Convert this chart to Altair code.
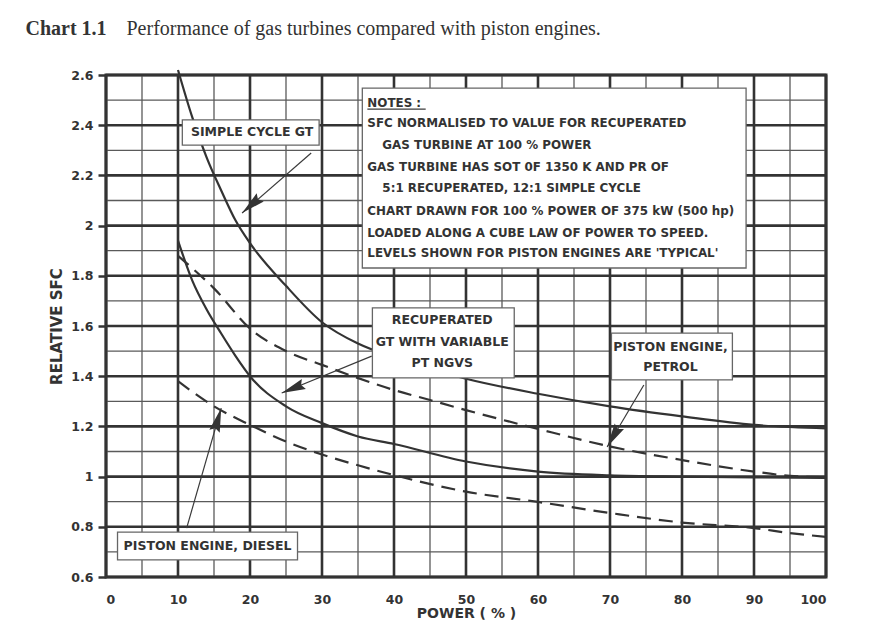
import math
import altair as alt
import pandas as pd

# ---------------- data ----------------
x_ticks = [0, 10, 20, 30, 40, 50, 60, 70, 80, 90, 100]
y_ticks = [0.6, 0.8, 1.0, 1.2, 1.4, 1.6, 1.8, 2.0, 2.2, 2.4, 2.6]
x_minor = [5, 15, 25, 35, 45, 55, 65, 75, 85, 95]
y_minor = [0.7, 0.9, 1.1, 1.3, 1.5, 1.7, 1.9, 2.1, 2.3, 2.5]

power_gt = [10, 12, 14, 16, 18, 20, 25, 30, 35, 40, 50, 60, 70, 80, 90, 100]
simple_cycle_gt = [2.62, 2.43, 2.27, 2.14, 2.02, 1.93, 1.76, 1.615, 1.53, 1.475, 1.39, 1.33, 1.28, 1.24, 1.206, 1.192]
recuperated_gt = [1.94, 1.78, 1.665, 1.57, 1.48, 1.40, 1.28, 1.213, 1.16, 1.13, 1.06, 1.02, 1.005, 1.0, 0.997, 0.995]

power_petrol = [10, 12, 15, 20, 25, 30, 40, 45, 50, 60, 70, 80, 90, 95, 100]
petrol = [1.88, 1.83, 1.75, 1.59, 1.50, 1.445, 1.345, 1.305, 1.265, 1.19, 1.12, 1.066, 1.02, 1.003, 0.997]

power_diesel = [10, 15, 20, 25, 30, 35, 40, 50, 60, 70, 80, 90, 95, 100]
diesel = [1.38, 1.28, 1.206, 1.14, 1.088, 1.045, 1.006, 0.94, 0.899, 0.855, 0.817, 0.795, 0.775, 0.76]

# annotation boxes (data coordinates)
box_x1 = [10.6, 35.6, 37.0, 70.2, 1.6]
box_x2 = [29.6, 88.9, 56.7, 87.0, 26.6]
box_y1 = [2.421, 2.548, 1.672, 1.572, 0.779]
box_y2 = [2.321, 1.831, 1.393, 1.385, 0.668]

# labels inside boxes (centred)
label_text = ["SIMPLE CYCLE GT", "RECUPERATED", "GT WITH VARIABLE", "PT NGVS",
              "PISTON ENGINE,", "PETROL", "PISTON ENGINE, DIESEL"]
label_x = [20.3, 46.7, 46.7, 46.7, 78.4, 78.4, 14.1]
label_y = [2.372, 1.622, 1.537, 1.452, 1.517, 1.437, 0.725]

# notes box lines
notes_text = ["NOTES :",
              "SFC NORMALISED TO VALUE FOR RECUPERATED",
              "GAS TURBINE AT 100 % POWER",
              "GAS TURBINE HAS SOT 0F 1350 K AND PR OF",
              "5:1 RECUPERATED, 12:1 SIMPLE CYCLE",
              "CHART DRAWN FOR 100 % POWER OF 375 kW (500 hp)",
              "LOADED ALONG A CUBE LAW OF POWER TO SPEED.",
              "LEVELS SHOWN FOR PISTON ENGINES ARE 'TYPICAL'"]
notes_y = [2.488, 2.407, 2.321, 2.233, 2.150, 2.058, 1.970, 1.891]
notes_indent = [0, 0, 1, 0, 1, 0, 0, 0]
notes_x = 36.3
underline_x = [36.3, 44.4]
underline_y = 2.464

# arrows: start -> tip
arrow_x_start = [28.5, 36.9, 74.7, 11.2]
arrow_y_start = [2.289, 1.480, 1.365, 0.795]
arrow_x_tip = [18.9, 24.4, 69.6, 16.0]
arrow_y_tip = [2.050, 1.333, 1.118, 1.273]

# caption
caption_bold = "Chart 1.1"
caption_text = "Performance of gas turbines compared with piston engines."

# ---------------- styling ----------------
W, H = 720, 502
PX_X = W / 100.0
PX_Y = H / 2.0
INK = "#333333"
SANS = "DejaVu Sans"
SERIF = "Liberation Serif"

xs = alt.Scale(domain=[0, 100], nice=False, zero=False)
ys = alt.Scale(domain=[0.6, 2.6], nice=False, zero=False)
xaxis = alt.Axis(values=x_ticks, title="POWER ( % )", format="d", grid=False, domain=False,
                 ticks=False, labelPadding=16, labelFont=SANS, labelFontSize=12.5,
                 labelFontWeight="bold", labelColor=INK, titleFont=SANS, titleFontSize=14,
                 titleFontWeight="bold", titleColor=INK, titlePadding=1)
yaxis = alt.Axis(values=y_ticks, title="RELATIVE SFC", format=".1~f", grid=False, domain=False,
                 tickSize=8, tickWidth=2.5, tickColor=INK, labelPadding=5, labelFont=SANS,
                 labelFontSize=12.5, labelFontWeight="bold", labelColor=INK, titleFont=SANS,
                 titleFontSize=15, titleFontWeight="bold", titleColor=INK, titlePadding=6)


def X(f):
    return alt.X(f, type="quantitative", scale=xs, axis=xaxis)


def Y(f):
    return alt.Y(f, type="quantitative", scale=ys, axis=yaxis)


# ---------------- tables ----------------
curves = pd.concat([
    pd.DataFrame({"series": "Simple cycle GT", "style": "solid", "power": power_gt, "sfc": simple_cycle_gt}),
    pd.DataFrame({"series": "Recuperated GT", "style": "solid", "power": power_gt, "sfc": recuperated_gt}),
    pd.DataFrame({"series": "Petrol", "style": "dash", "power": power_petrol, "sfc": petrol}),
    pd.DataFrame({"series": "Diesel", "style": "dash", "power": power_diesel, "sfc": diesel}),
], ignore_index=True)

boxes = pd.DataFrame({"x1": box_x1, "x2": box_x2, "y1": box_y1, "y2": box_y2})
labels = pd.DataFrame({"text": label_text, "x": label_x, "y": label_y})
notes = pd.DataFrame({"text": notes_text, "x": notes_x, "y": notes_y, "indent": notes_indent})
segments = pd.DataFrame({
    "x1": arrow_x_start + [underline_x[0]],
    "y1": arrow_y_start + [underline_y],
    "x2": arrow_x_tip + [underline_x[1]],
    "y2": arrow_y_tip + [underline_y],
})
angles = []
for xs0, ys0, xt, yt in zip(arrow_x_start, arrow_y_start, arrow_x_tip, arrow_y_tip):
    dxp = (xt - xs0) * PX_X
    dyp = -(yt - ys0) * PX_Y
    angles.append(math.degrees(math.atan2(dxp, -dyp)) % 360)
heads = pd.DataFrame({"x": arrow_x_tip, "y": arrow_y_tip, "ang": angles})

# ---------------- layers ----------------
grid_minor_x = alt.Chart(pd.DataFrame({"v": x_minor})).mark_rule(color="#5a5a5a", strokeWidth=1.3).encode(x=X("v"))
grid_minor_y = alt.Chart(pd.DataFrame({"v": y_minor})).mark_rule(color="#5a5a5a", strokeWidth=1.3).encode(y=Y("v"))
grid_major_x = alt.Chart(pd.DataFrame({"v": x_ticks})).mark_rule(color=INK, strokeWidth=2.6).encode(x=X("v"))
grid_major_y = alt.Chart(pd.DataFrame({"v": y_ticks})).mark_rule(color=INK, strokeWidth=2.6).encode(y=Y("v"))

solid = alt.Chart(curves[curves["style"] == "solid"]).mark_line(
    color=INK, strokeWidth=2.2, interpolate="monotone").encode(
    x=X("power"), y=Y("sfc"), detail="series:N", order="power:Q")
dashed = alt.Chart(curves[curves["style"] == "dash"]).mark_line(
    color=INK, strokeWidth=2.2, strokeDash=[14, 8], interpolate="monotone").encode(
    x=X("power"), y=Y("sfc"), detail="series:N", order="power:Q")

box_layer = alt.Chart(boxes).mark_rect(fill="white", stroke="#666666", strokeWidth=1.3).encode(
    x=X("x1"), x2="x2", y=Y("y1"), y2="y2")

seg_layer = alt.Chart(segments).mark_rule(color="#3a3a3a", strokeWidth=1.2).encode(
    x=X("x1"), x2="x2", y=Y("y1"), y2="y2")

head_layer = alt.Chart(heads).mark_point(
    shape="M0,0L0.45,2L0,1.75L-0.45,2Z", filled=True, size=576, color=INK, opacity=1, strokeWidth=0).encode(
    x=X("x"), y=Y("y"), angle=alt.Angle("ang:Q", scale=None))

label_layer = alt.Chart(labels).mark_text(
    font=SANS, fontSize=12.5, fontWeight="bold", color=INK, align="center", baseline="middle").encode(
    x=X("x"), y=Y("y"), text="text:N")

notes_plain = alt.Chart(notes[notes["indent"] == 0]).mark_text(
    font=SANS, fontSize=11.9, fontWeight="bold", color=INK, align="left", baseline="middle").encode(
    x=X("x"), y=Y("y"), text="text:N")
notes_indented = alt.Chart(notes[notes["indent"] == 1]).mark_text(
    font=SANS, fontSize=11.9, fontWeight="bold", color=INK, align="left", baseline="middle", dx=15).encode(
    x=X("x"), y=Y("y"), text="text:N")

main = alt.layer(
    grid_minor_x, grid_minor_y, grid_major_x, grid_major_y,
    solid, dashed, box_layer, seg_layer, head_layer,
    label_layer, notes_plain, notes_indented,
)

# caption carried by two invisible extra axes (top x axis, right y axis)
caption_x_axis = alt.Axis(orient="top", title=caption_text,
                          labels=False, ticks=False, domain=False, grid=False,
                          titleX=20, titleY=-41, titleAnchor="start", titleAlign="left",
                          titleBaseline="alphabetic", titleFont=SERIF, titleFontSize=20,
                          titleFontWeight="normal", titleColor=INK)
caption_y_axis = alt.Axis(orient="right", title=caption_bold,
                          labels=False, ticks=False, domain=False, grid=False,
                          titleAngle=0, titleX=-(W + 81), titleY=-41, titleAnchor="start",
                          titleAlign="left", titleBaseline="alphabetic", titleFont=SERIF,
                          titleFontSize=20, titleFontWeight="bold", titleColor=INK)
caption = alt.Chart(pd.DataFrame({"v": [0], "w": [0.6]})).mark_rule(opacity=0).encode(
    x=alt.X("v:Q", scale=xs, axis=caption_x_axis),
    y=alt.Y("w:Q", scale=ys, axis=caption_y_axis))

chart = alt.layer(main, caption).resolve_axis(x="independent", y="independent").properties(
    width=W, height=H,
    padding={"left": 98, "top": 67, "right": 20, "bottom": 46},
    autosize=alt.AutoSizeParams(type="none"),
    background="white",
).configure_view(stroke=INK, strokeWidth=3, fill="white")

chart.save("out.html", embed_options={"renderer": "svg", "actions": False})
